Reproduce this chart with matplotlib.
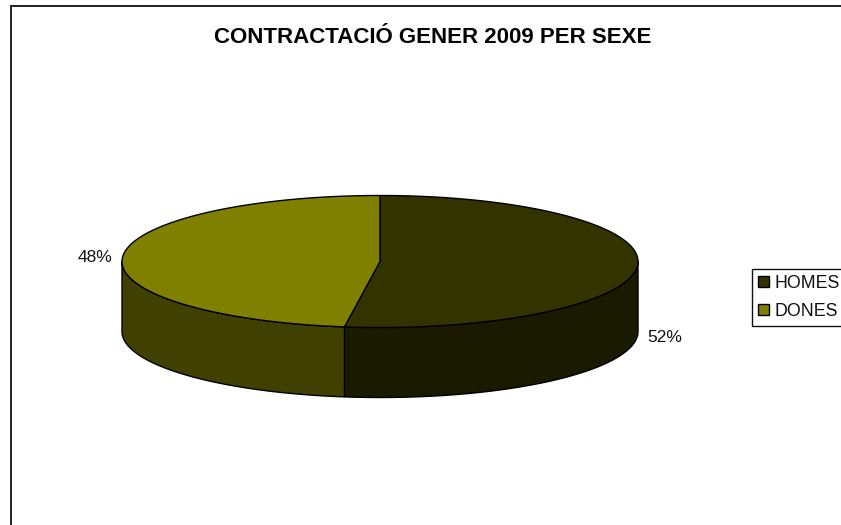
import numpy as np
import matplotlib
matplotlib.use('Agg')
import matplotlib.pyplot as plt
from matplotlib.patches import Polygon, Rectangle, Patch

plt.rcParams['font.family'] = ['Liberation Sans', 'DejaVu Sans']

categories = ['HOMES', 'DONES']
values = [52.2, 47.8]
top_colors = ['#333300', '#808000']
side_colors = ['#1a1a00', '#404000']

W, H = 841, 525
cx, cy, a, b, depth = 380, 261.5, 258, 66, 70


def rim(t):
    # t in degrees, clockwise from the top of the ellipse
    t = np.radians(t)
    return np.column_stack([cx + a * np.sin(t), cy - b * np.cos(t)])


fig = plt.figure(figsize=(W / 100, H / 100), dpi=100)
ax = fig.add_axes([0, 0, 1, 1])
ax.set_xlim(0, W)
ax.set_ylim(H, 0)
ax.axis('off')

# chart frame, runs off the right and bottom of the picture
ax.add_patch(Rectangle((11, 6), W + 20, H + 20, fc='white', ec='#202020', lw=1.4))

fractions = np.array(values) / sum(values)
edges = np.concatenate([[0], np.cumsum(fractions) * 360])

# sides first, only the front half of the disc shows
for i in range(len(values)):
    start = max(edges[i], 90)
    stop = min(edges[i + 1], 270)
    ts = np.linspace(start, stop, 200)
    upper = rim(ts)
    lower = upper + [0, depth]
    ax.add_patch(Polygon(np.vstack([upper, lower[::-1]]), fc=side_colors[i], ec='black', lw=1.0))

for i in range(len(values)):
    ts = np.linspace(edges[i], edges[i + 1], 300)
    ax.add_patch(Polygon(np.vstack([[[cx, cy]], rim(ts)]), fc=top_colors[i], ec='black', lw=1.0))

ax.text(432.5, 37.5, 'CONTRACTACIÓ GENER 2009 PER SEXE', ha='center', va='center',
        fontsize=16, fontweight='bold', color='black')
ax.text(95, 257.5, '48%', ha='center', va='center', fontsize=12.5, color='#111111')
ax.text(665, 337.5, '52%', ha='center', va='center', fontsize=12.5, color='#111111')

handles = [Patch(fc=c, ec='black', lw=1.0) for c in top_colors]
leg = ax.legend(handles, categories, loc='upper left',
                bbox_to_anchor=(752 / W, 1 - 268.6 / H), bbox_transform=fig.transFigure,
                fontsize=12.8, frameon=True, fancybox=False, framealpha=1,
                edgecolor='#111111', borderaxespad=0, borderpad=0.34,
                handlelength=0.6, handleheight=0.6, handletextpad=0.3,
                labelspacing=0.62, labelcolor='#111111')
leg.get_frame().set_linewidth(1.0)

fig.savefig('out.png', dpi=100)
